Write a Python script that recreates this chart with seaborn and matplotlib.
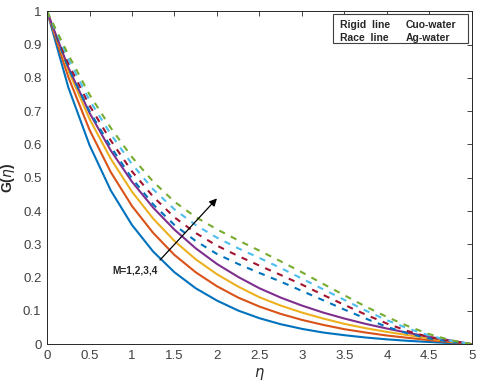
import matplotlib
matplotlib.use('Agg')
import matplotlib.pyplot as plt
from matplotlib.patches import Rectangle
import numpy as np
import pandas as pd
import seaborn as sns

# eta grid (every 0.25)
eta = [0.0, 0.25, 0.5, 0.75, 1.0, 1.25, 1.5, 1.75, 2.0, 2.25, 2.5,
       2.75, 3.0, 3.25, 3.5, 3.75, 4.0, 4.25, 4.5, 4.75, 5.0]

# solid lines: Cuo-water, M = 1..4
cuo_m1 = [1, 0.772, 0.598, 0.462, 0.358, 0.278, 0.216, 0.168, 0.131, 0.101, 0.078,
          0.060, 0.046, 0.035, 0.027, 0.020, 0.0145, 0.010, 0.0065, 0.003, 0]
cuo_m2 = [1, 0.803, 0.644, 0.517, 0.415, 0.334, 0.268, 0.216, 0.174, 0.140, 0.113,
          0.091, 0.073, 0.058, 0.045, 0.035, 0.026, 0.019, 0.012, 0.006, 0]
cuo_m3 = [1, 0.823, 0.677, 0.557, 0.458, 0.377, 0.310, 0.255, 0.210, 0.173, 0.141,
          0.116, 0.095, 0.077, 0.061, 0.048, 0.037, 0.027, 0.017, 0.008, 0]
cuo_m4 = [1, 0.832, 0.695, 0.582, 0.488, 0.410, 0.344, 0.288, 0.241, 0.202, 0.168,
          0.140, 0.116, 0.095, 0.077, 0.061, 0.047, 0.034, 0.022, 0.011, 0]

# dashed lines: Ag-water, M = 1..4
ag_m1 = [1, 0.830, 0.700, 0.593, 0.498, 0.420, 0.358, 0.310, 0.271, 0.241, 0.214,
         0.188, 0.160, 0.132, 0.104, 0.077, 0.052, 0.032, 0.017, 0.007, 0]
ag_m2 = [1, 0.843, 0.717, 0.612, 0.519, 0.443, 0.381, 0.334, 0.296, 0.265, 0.236,
         0.208, 0.179, 0.148, 0.118, 0.089, 0.062, 0.039, 0.021, 0.009, 0]
ag_m3 = [1, 0.857, 0.733, 0.631, 0.541, 0.465, 0.405, 0.358, 0.320, 0.288, 0.259,
         0.229, 0.197, 0.165, 0.133, 0.101, 0.072, 0.047, 0.026, 0.010, 0]
ag_m4 = [1, 0.870, 0.750, 0.650, 0.562, 0.488, 0.428, 0.382, 0.345, 0.312, 0.281,
         0.249, 0.216, 0.181, 0.147, 0.113, 0.082, 0.054, 0.030, 0.012, 0]

series = {
    'cuo1': cuo_m1, 'cuo2': cuo_m2, 'cuo3': cuo_m3, 'cuo4': cuo_m4,
    'ag1': ag_m1, 'ag2': ag_m2, 'ag3': ag_m3, 'ag4': ag_m4,
}
colors = {
    'cuo1': '#0072BD', 'cuo2': '#D95319', 'cuo3': '#EDB120', 'cuo4': '#7E2F8E',
    'ag1': '#0072BD', 'ag2': '#A2142F', 'ag3': '#4DBEEE', 'ag4': '#77AC30',
}
dashes = {k: ('' if k.startswith('cuo') else (3, 3.2)) for k in series}

df = pd.concat([pd.DataFrame({'eta': eta, 'G': v, 'curve': k}) for k, v in series.items()],
               ignore_index=True)

sns.set_style('white')
plt.rcParams['font.family'] = ['Liberation Sans', 'DejaVu Sans']
plt.rcParams['mathtext.fontset'] = 'dejavusans'

fig = plt.figure(figsize=(4.8, 3.92), dpi=100)
ax = fig.add_axes([0.098, 0.122, 0.885, 0.849])

sns.lineplot(data=df, x='eta', y='G', hue='curve', style='curve',
             palette=colors, dashes=dashes, hue_order=list(series),
             style_order=list(series), linewidth=1.5, legend=False, ax=ax)

ax.set_xlim(0, 5)
ax.set_ylim(0, 1)
ax.set_xticks(np.arange(0, 5.01, 0.5))
ax.set_xticklabels(['0', '0.5', '1', '1.5', '2', '2.5', '3', '3.5', '4', '4.5', '5'])
ax.set_yticks(np.arange(0, 1.01, 0.1))
ax.set_yticklabels(['0', '0.1', '0.2', '0.3', '0.4', '0.5', '0.6', '0.7', '0.8', '0.9', '1'])
ax.tick_params(direction='in', top=True, right=True, length=3.5, width=0.6,
               labelsize=9.5, labelcolor='#404040', color='#262626', pad=4)
for s in ax.spines.values():
    s.set_color('#262626')
    s.set_linewidth(0.7)

ax.set_xlabel(r'$\eta$', fontsize=10.5, color='#262626', labelpad=3)
ax.set_ylabel(r'G($\eta$)', fontsize=10, fontweight='bold', color='#262626', labelpad=4)

# arrow and label for M
ax.annotate('', xy=(2.0, 0.438), xytext=(1.33, 0.253),
            arrowprops=dict(arrowstyle='-|>', color='black', lw=0.9,
                            mutation_scale=11, shrinkA=0, shrinkB=0))
ax.text(1.30, 0.22, 'M=1,2,3,4', fontsize=7.3, fontweight='bold', ha='right', va='center')

# text box in upper right
ax.add_patch(Rectangle((0.673, 0.905), 0.318, 0.087, transform=ax.transAxes,
                       facecolor='white', edgecolor='#404040', lw=0.8, zorder=5))
ax.text(0.690, 0.958, 'Rigid  line', transform=ax.transAxes, fontsize=7.5,
        fontweight='bold', va='center', zorder=6)
ax.text(0.690, 0.919, 'Race  line', transform=ax.transAxes, fontsize=7.5,
        fontweight='bold', va='center', zorder=6)
ax.text(0.845, 0.958, 'Cuo-water', transform=ax.transAxes, fontsize=7.5,
        fontweight='bold', va='center', zorder=6)
ax.text(0.845, 0.919, 'Ag-water', transform=ax.transAxes, fontsize=7.5,
        fontweight='bold', va='center', zorder=6)

fig.savefig('out.png', dpi=100)
